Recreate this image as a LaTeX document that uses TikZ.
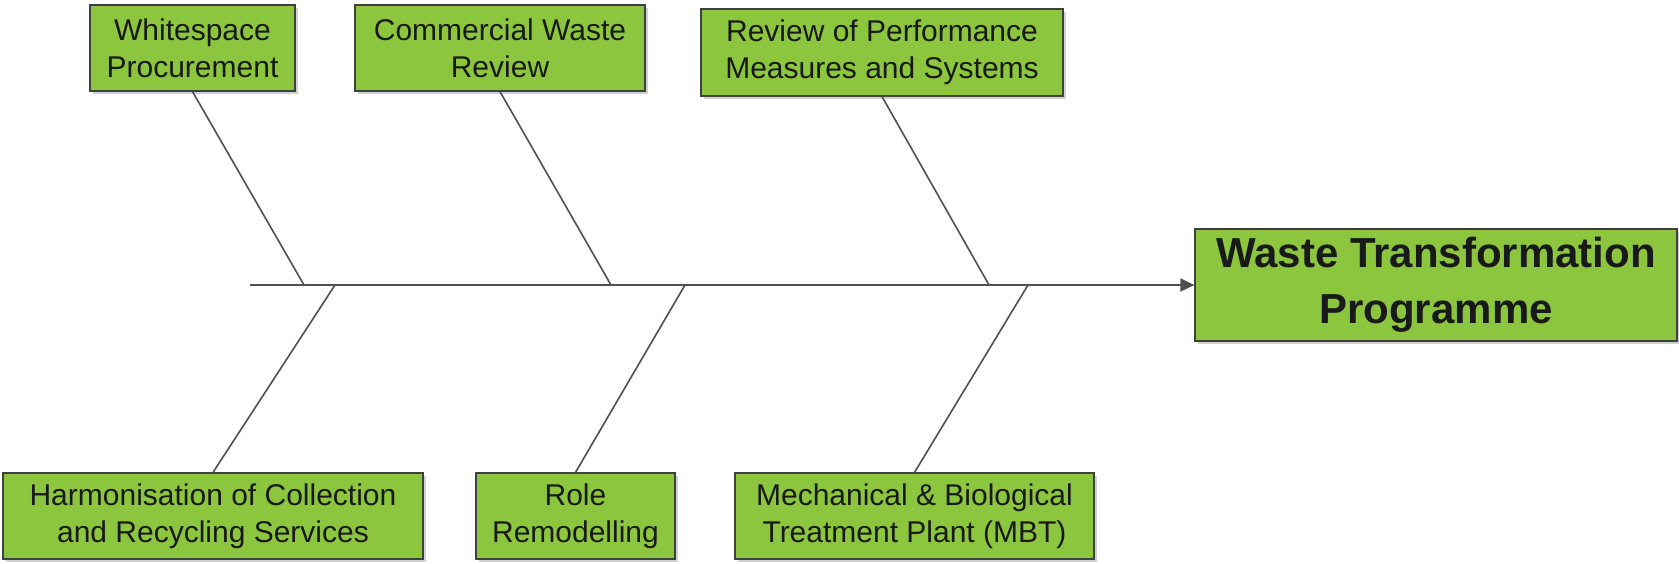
\documentclass[tikz,border=0pt]{standalone}
\usepackage{fontspec}
\setmainfont{Liberation Sans}
\usetikzlibrary{shadows,arrows.meta}
\definecolor{boxgreen}{RGB}{140,198,63}
\definecolor{boxedge}{RGB}{64,64,64}
\definecolor{linegray}{RGB}{80,80,80}
\tikzset{
  cause/.style={draw=boxedge, line width=1.2pt, fill=boxgreen, inner sep=0pt,
    align=center, text=black!90,
    font=\fontsize{30}{37}\selectfont,
    drop shadow={shadow xshift=3pt, shadow yshift=-3pt, fill=black, opacity=0.18}},
  effect/.style={cause, font=\fontsize{42}{56}\selectfont\bfseries},
  bone/.style={draw=linegray, line width=1.6pt},
}
\begin{document}
\begin{tikzpicture}[x=1pt,y=-1pt]
\useasboundingbox (0,0) rectangle (1679,563);
% boxes
\node[cause, minimum width=205pt, minimum height=86pt] (ws) at (192.5,48) {Whitespace\\Procurement};
\node[cause, minimum width=290pt, minimum height=86pt] (cw) at (500,48) {Commercial Waste\\Review};
\node[cause, minimum width=362pt, minimum height=87pt] (rp) at (882,52.5) {Review of Performance\\Measures and Systems};
\node[effect, minimum width=482pt, minimum height=112pt] (wt) at (1436,285) {Waste Transformation\\Programme};
\node[cause, minimum width=420pt, minimum height=86pt] (hc) at (213,516) {Harmonisation of Collection\\and Recycling Services};
\node[cause, minimum width=199pt, minimum height=86pt] (rr) at (575.5,516) {Role\\Remodelling};
\node[cause, minimum width=359pt, minimum height=86pt] (mb) at (914.5,516) {Mechanical \& Biological\\Treatment Plant (MBT)};
% spine
\coordinate (s0) at (250,285);
\coordinate (t1) at (304,285);
\coordinate (t2) at (611,285);
\coordinate (t3) at (989,285);
\coordinate (b1) at (335,285);
\coordinate (b2) at (685,285);
\coordinate (b3) at (1028,285);
\draw[bone, -{Triangle[length=14pt,width=13pt]}] (s0) -- (wt.west);
% bones
\draw[bone] (ws.south) -- (t1);
\draw[bone] (cw.south) -- (t2);
\draw[bone] (rp.south) -- (t3);
\draw[bone] (hc.north) -- (b1);
\draw[bone] (rr.north) -- (b2);
\draw[bone] (mb.north) -- (b3);
\end{tikzpicture}
\end{document}
